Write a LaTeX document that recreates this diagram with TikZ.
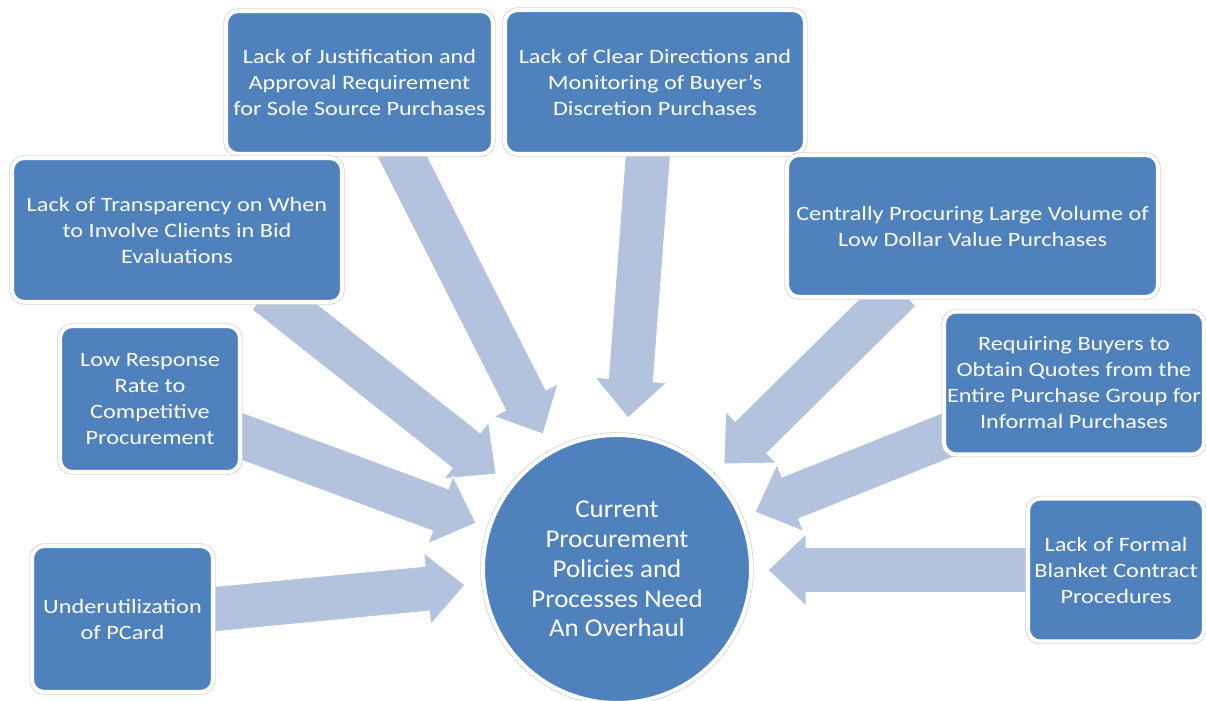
\documentclass[tikz,border=0pt]{standalone}
\usepackage{fontspec}
\setmainfont{Carlito}
\newfontfamily\boxfont[FakeStretch=1.19]{Carlito}
\newfontfamily\hubfont[FakeStretch=1.05]{Carlito}
\usetikzlibrary{calc}
\definecolor{boxblue}{HTML}{4F81BD}
\definecolor{arrowblue}{HTML}{B3C2DD}
\tikzset{
  cbox/.style={rectangle, rounded corners=7pt, fill=boxblue, draw=white, line width=2.3pt,
    preaction={draw=black!18, line width=3.1pt},
    text=white, align=center, inner sep=0pt, font=\boxfont\fontsize{11.6}{14.8}\selectfont},
  hub/.style={circle, fill=boxblue, draw=white, line width=2.3pt,
    preaction={draw=black!18, line width=3.1pt},
    text=white, align=center, inner sep=0pt, font=\hubfont\fontsize{14.6}{17}\selectfont},
  blockarr/.style={fill=arrowblue, draw=white, line width=0.5pt, line join=miter}
}
\newcommand{\blockarrow}[2]{%
  \coordinate (ab) at ($(#2)!21.6pt!(#1)$);
  \filldraw[blockarr] ($(#1)!12.8pt!90:(#2)$) -- ($(ab)!12.8pt!90:(#2)$) -- ($(ab)!20.5pt!90:(#2)$) -- (#2)
    -- ($(ab)!20.5pt!-90:(#2)$) -- ($(ab)!12.8pt!-90:(#2)$) -- ($(#1)!12.8pt!-90:(#2)$) -- cycle;}
\begin{document}
\begin{tikzpicture}[x=0.02cm, y=-0.02cm]
\useasboundingbox (0,0) rectangle (1206,700);
% arrow end points
\coordinate (a1s) at (394,140);  \coordinate (a1t) at (543,434);
\coordinate (a2s) at (649,140);  \coordinate (a2t) at (628,418);
\coordinate (a3s) at (266,292);  \coordinate (a3t) at (496,474);
\coordinate (a4s) at (900,290);  \coordinate (a4t) at (724,464);
\coordinate (a5s) at (230,432);  \coordinate (a5t) at (476,523);
\coordinate (a6s) at (955,432);  \coordinate (a6t) at (755,512);
\coordinate (a7s) at (205,610);  \coordinate (a7t) at (465,585);
\coordinate (a8s) at (1040,570); \coordinate (a8t) at (768,570);
% arrows
\blockarrow{a8s}{a8t}
\blockarrow{a4s}{a4t}
\blockarrow{a6s}{a6t}
\blockarrow{a2s}{a2t}
\blockarrow{a1s}{a1t}
\blockarrow{a3s}{a3t}
\blockarrow{a5s}{a5t}
\blockarrow{a7s}{a7t}
% boxes
\node[cbox, minimum width=267*0.02cm, minimum height=143*0.02cm] (just) at (359.5,82.5)
  {Lack of Justification and\\Approval Requirement\\for Sole Source Purchases};
\node[cbox, minimum width=300*0.02cm, minimum height=144*0.02cm] (dir) at (655,82)
  {Lack of Clear Directions and\\Monitoring of Buyer’s\\Discretion Purchases};
\node[cbox, minimum width=330*0.02cm, minimum height=144*0.02cm] (trans) at (177,230)
  {Lack of Transparency on When\\to Involve Clients in Bid\\Evaluations};
\node[cbox, minimum width=371*0.02cm, minimum height=142*0.02cm] (cent) at (972.5,226)
  {Centrally Procuring Large Volume of\\Low Dollar Value Purchases};
\node[cbox, minimum width=180*0.02cm, minimum height=146*0.02cm] (low) at (150,399)
  {Low Response\\Rate to\\Competitive\\Procurement};
\node[cbox, minimum width=260*0.02cm, minimum height=143*0.02cm] (req) at (1074,383)
  {Requiring Buyers to\\Obtain Quotes from the\\Entire Purchase Group for\\Informal Purchases};
\node[cbox, minimum width=181*0.02cm, minimum height=146*0.02cm] (under) at (122.5,619)
  {Underutilization\\of PCard};
\node[cbox, minimum width=176*0.02cm, minimum height=143*0.02cm] (formal) at (1116,570)
  {Lack of Formal\\Blanket Contract\\Procedures};
% hub
\node[hub, minimum size=268*0.02cm] (hubnode) at (617,569)
  {Current\\Procurement\\Policies and\\Processes Need\\An Overhaul};
\end{tikzpicture}
\end{document}
